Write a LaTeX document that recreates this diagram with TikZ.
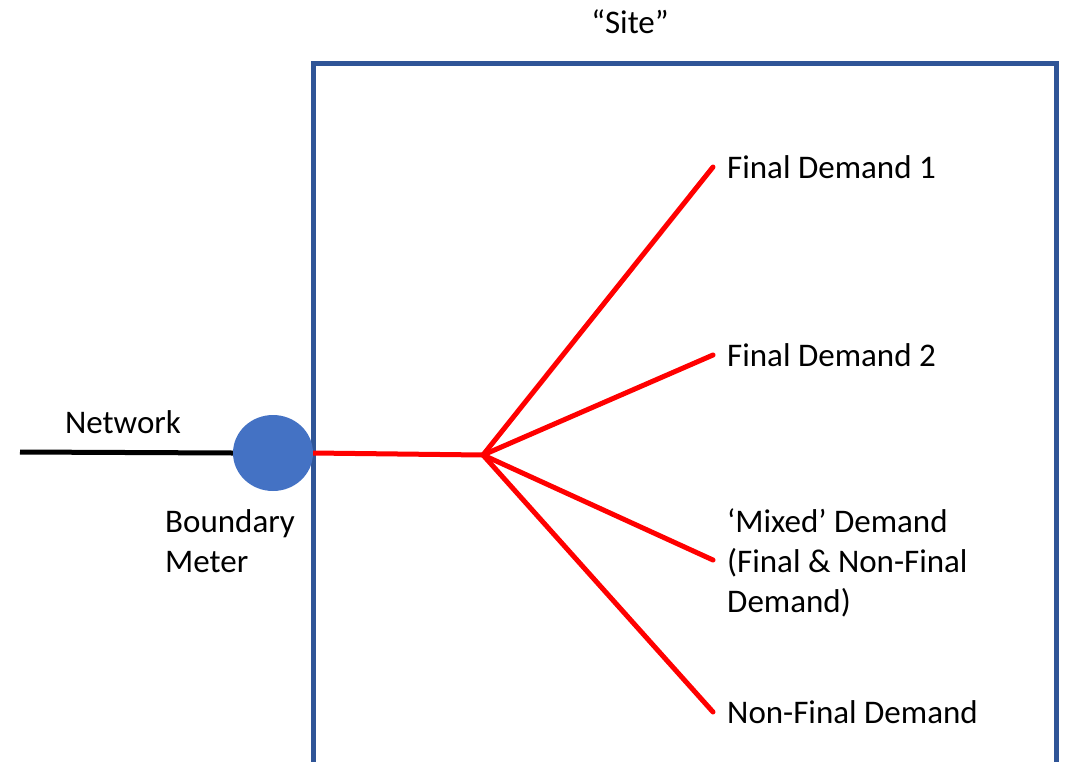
\documentclass[tikz,border=0pt]{standalone}
\usepackage{fontspec}
\setmainfont{Carlito}
\usetikzlibrary{shapes.geometric}

\definecolor{siteblue}{HTML}{2F5597}
\definecolor{meterblue}{HTML}{4472C4}

\begin{document}
\begin{tikzpicture}[x=1pt, y=-1pt,
        label/.style={inner sep=0pt, anchor=west, align=left, font=\fontsize{33}{40}\selectfont},
        feed/.style={red, line width=5pt},
        meter/.style={ellipse, fill=meterblue, draw=none, minimum width=80pt, minimum height=76pt, inner sep=0pt}]
    \useasboundingbox (0,0) rectangle (1069,761);
    \clip (0,0) rectangle (1069,761);
    % site boundary, open at the bottom
    \draw[siteblue, line width=5pt] (313,790) -- (313,63) -- (1056,63) -- (1056,790);
    \node[label, anchor=center] (site) at (630,22) {“Site”};

    \node[meter]  (meter) at (273,453) {};
    \coordinate   (net)   at (20,452);
    \coordinate   (hub)   at (483,455);
    \coordinate   (d1)    at (713,167);
    \coordinate   (d2)    at (713,355);
    \coordinate   (d3)    at (713,560);
    \coordinate   (d4)    at (713,712);

    \node[label, anchor=center] (netlab) at (123,422) {Network};
    \node[label] (meterlab) at (165,541) {Boundary\\Meter};
    \node[label] (l1) at (727,167) {Final Demand 1};
    \node[label] (l2) at (727,355) {Final Demand 2};
    \node[label] (l3) at (727,563) {‘Mixed’ Demand\\(Final \& Non-Final\\Demand)};
    \node[label] (l4) at (727,712) {Non-Final Demand};

    \draw[black, line width=5pt] (net) -- (meter.west);
    \draw[feed] (meter.east) -- (hub);
    \draw[feed, line cap=round] (hub) -- (d1);
    \draw[feed, line cap=round] (hub) -- (d2);
    \draw[feed, line cap=round] (hub) -- (d3);
    \draw[feed, line cap=round] (hub) -- (d4);
\end{tikzpicture}
\end{document}
